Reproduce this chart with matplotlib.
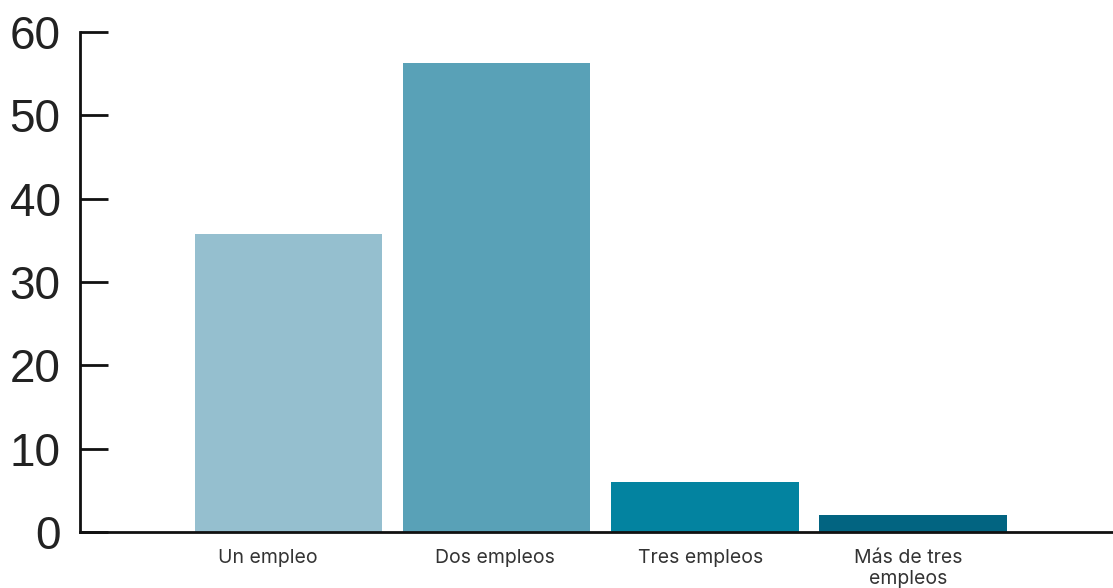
import matplotlib
matplotlib.use("Agg")
import matplotlib.pyplot as plt

categories = ["Un empleo", "Dos empleos", "Tres empleos", "Más de tres\nempleos"]
values = [35.8, 56.3, 6.0, 2.0]
colors = ["#95BFCF", "#59A1B7", "#0383A0", "#026481"]
yticks = [0, 10, 20, 30, 40, 50, 60]

plt.rcParams['font.family'] = ['Inter', 'DejaVu Sans']

fig = plt.figure(figsize=(11.13, 5.88), dpi=100)
ax = fig.add_axes([80/1113, 1-532/588, 1-80/1113, (532-32)/588])

x = list(range(len(categories)))
ax.bar(x, values, width=0.9, color=colors, zorder=2)

ax.set_xlim(-1.0, 3.96)
ax.set_ylim(0, 60)
ax.set_yticks(yticks)
ax.set_yticklabels([str(t) for t in yticks], fontsize=33, color="#222222",
                   family=['Liberation Sans', 'DejaVu Sans'])
ax.set_xticks(x)
ax.set_xticklabels([])

# category labels with small horizontal offsets (points) as in the reference
label_shift_pt = [-14.4, -1.5, -3, -3.6]
for xi, cat, dx in zip(x, categories, label_shift_pt):
    ax.annotate(cat, xy=(xi, 0), xycoords=('data', 'axes fraction'),
                xytext=(dx, -12), textcoords='offset points',
                ha='center', va='top', fontsize=14, color="#333333",
                linespacing=1.25, annotation_clip=False)

for s in ["top", "right"]:
    ax.spines[s].set_visible(False)
for s in ["left", "bottom"]:
    ax.spines[s].set_linewidth(2)
    ax.spines[s].set_color("#111111")
    ax.spines[s].set_zorder(3)

ax.tick_params(axis="y", direction="in", length=20, width=2, color="#111111", pad=14)
ax.tick_params(axis="x", length=0)

fig.savefig("out.png", dpi=100)
